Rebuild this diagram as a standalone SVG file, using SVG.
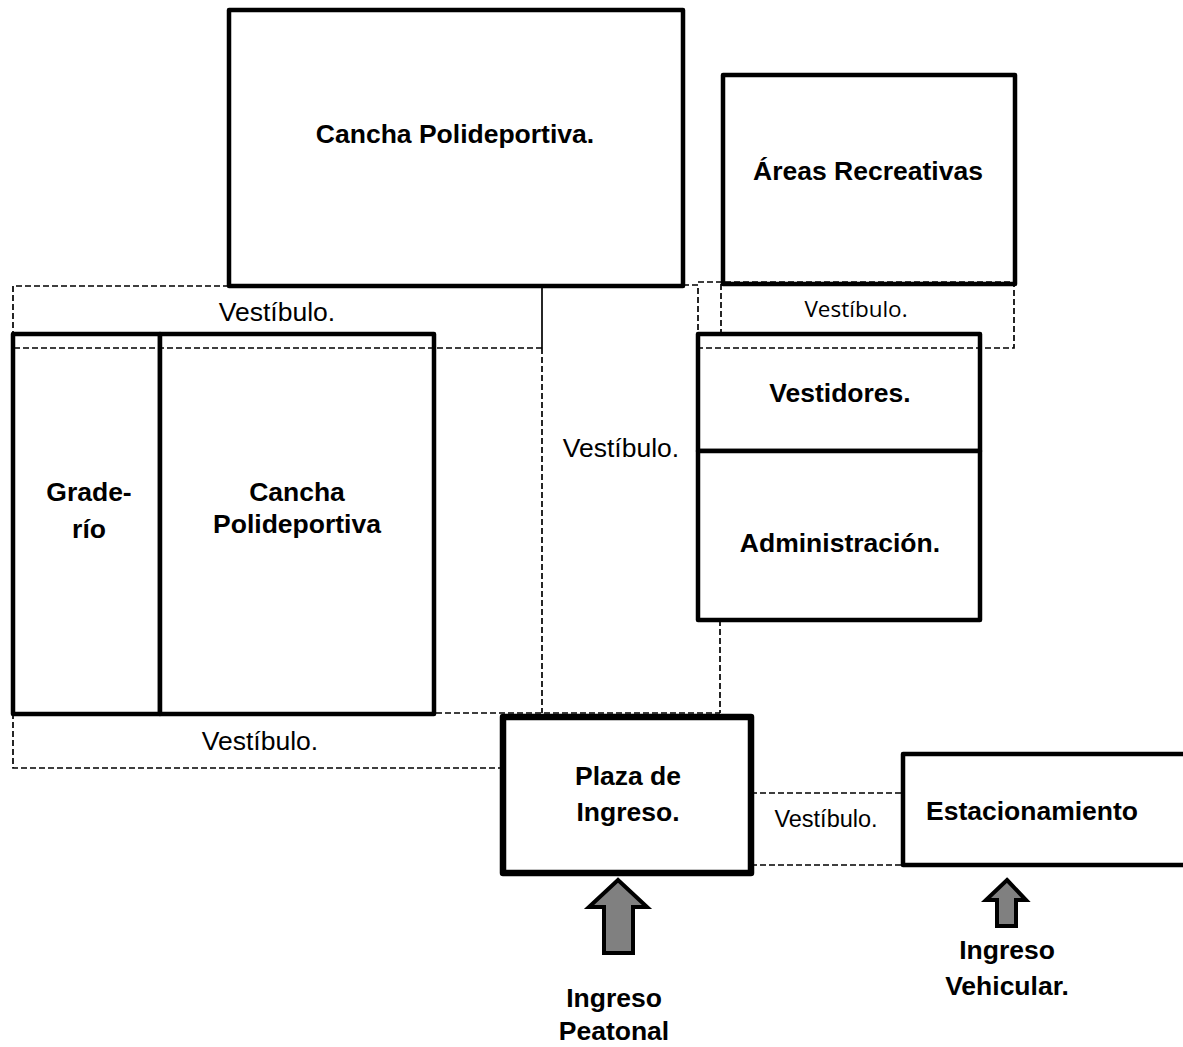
<svg xmlns="http://www.w3.org/2000/svg" width="1183" height="1047" viewBox="0 0 1183 1047">
  <style>
    .room { fill: #ffffff; stroke: #000000; stroke-width: 4.5; stroke-linejoin: round; }
    .thick { stroke-width: 6.5; }
    .dash { fill: none; stroke: #000000; stroke-width: 1.7; stroke-dasharray: 6 3; }
    .solid { fill: none; stroke: #000000; stroke-width: 1.7; }
    .lbl { font-family: "Liberation Sans", Arial, sans-serif; font-weight: bold; font-size: 26.5px; fill: #000; text-anchor: middle; }
    .hall { font-family: "Liberation Sans", Arial, sans-serif; font-size: 26.5px; fill: #000; text-anchor: middle; }
    .hall2 { font-family: "Open Sans", "Noto Sans", sans-serif; font-size: 22.5px; fill: #000; text-anchor: middle; }
    .arrow { fill: #808080; stroke: #000000; stroke-width: 4; stroke-linejoin: miter; }
  </style>

  <g id="cancha-superior">
    <rect class="room" x="229" y="10" width="454" height="276"/>
    <text class="lbl" x="455" y="143">Cancha Polideportiva.</text>
  </g>

  <g id="areas-recreativas">
    <rect class="room" x="723" y="75" width="292" height="209"/>
    <text class="lbl" x="868" y="180">Áreas Recreativas</text>
  </g>

  <g id="graderio">
    <rect class="room" x="13" y="334" width="147" height="380"/>
    <text class="lbl" x="89" y="501">Grade-</text>
    <text class="lbl" x="89" y="538">río</text>
  </g>

  <g id="cancha-inferior">
    <rect class="room" x="160" y="334" width="274" height="380"/>
    <text class="lbl" x="297" y="501">Cancha</text>
    <text class="lbl" x="297" y="533">Polideportiva</text>
  </g>

  <g id="vestidores">
    <rect class="room" x="698" y="334" width="282" height="117"/>
    <text class="lbl" x="840" y="402">Vestidores.</text>
  </g>

  <g id="administracion">
    <rect class="room" x="698" y="451" width="282" height="169"/>
    <text class="lbl" x="840" y="552">Administración.</text>
  </g>

  <g id="plaza-ingreso">
    <rect class="room thick" x="503" y="717" width="248" height="156"/>
    <text class="lbl" x="628" y="785">Plaza de</text>
    <text class="lbl" x="628" y="821">Ingreso.</text>
  </g>

  <g id="estacionamiento">
    <rect class="room" x="903" y="754" width="284" height="111"/>
    <text class="lbl" x="1032" y="820">Estacionamiento</text>
  </g>

  <!-- circulation / vestibule outlines, drawn over the rooms they cross -->
  <g id="connectors">
    <!-- upper-left vestibule -->
    <polyline class="dash" points="229,286 13,286 13,348 542,348"/>
    <line class="solid" x1="542" y1="286" x2="542" y2="348"/>
    <!-- central vertical vestibule -->
    <line class="dash" x1="542" y1="348" x2="542" y2="713"/>
    <line class="dash" x1="720" y1="620" x2="720" y2="713"/>
    <line class="dash" x1="13" y1="713" x2="720" y2="713"/>
    <!-- lower-left vestibule -->
    <polyline class="dash" points="13,713 13,768 502,768"/>
    <!-- right vestibule under recreational areas -->
    <polyline class="dash" points="683,285 698,285 698,334"/>
    <polyline class="dash" points="698,282 1014,282 1014,348 698,348"/>
    <line class="dash" x1="721" y1="284" x2="721" y2="334"/>
    <!-- parking vestibule -->
    <line class="dash" x1="751" y1="793" x2="903" y2="793"/>
    <line class="dash" x1="751" y1="865" x2="903" y2="865"/>
  </g>

  <g id="vestibulos">
    <text class="hall" x="277" y="321">Vestíbulo.</text>
    <text class="hall2" x="856" y="317">Vestíbulo.</text>
    <text class="hall" x="621" y="457">Vestíbulo.</text>
    <text class="hall" x="260" y="750">Vestíbulo.</text>
    <text class="hall" style="font-size:23.5px" x="826" y="827">Vestíbulo.</text>
  </g>

  <g id="ingreso-peatonal">
    <polygon class="arrow" points="618,880 647,907 633,907 633,953 604,953 604,907 589,907"/>
    <text class="lbl" x="614" y="1007">Ingreso</text>
    <text class="lbl" x="614" y="1040">Peatonal</text>
  </g>

  <g id="ingreso-vehicular">
    <polygon class="arrow" points="1007,880 1026,900 1016,900 1016,926 997,926 997,900 986,900"/>
    <text class="lbl" x="1007" y="959">Ingreso</text>
    <text class="lbl" x="1007" y="995">Vehicular.</text>
  </g>
</svg>
